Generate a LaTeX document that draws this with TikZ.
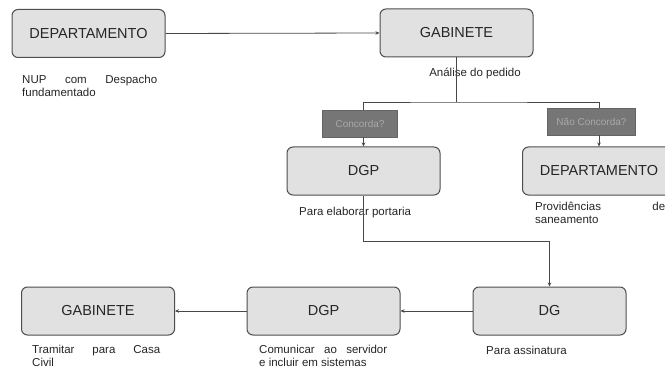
\documentclass[tikz,border=0pt]{standalone}
\usepackage{fontspec}
\setmainfont{Liberation Sans}
\usetikzlibrary{arrows.meta}
\definecolor{boxfill}{HTML}{E1E1E1}
\definecolor{boxline}{HTML}{4E4E4E}
\definecolor{tagfill}{HTML}{767676}
\definecolor{tagtext}{HTML}{A9A9A9}
\definecolor{ink}{HTML}{262626}
\tikzset{
  flowbox/.style={draw=boxline, line width=1pt, fill=boxfill, rounded corners=6pt,
    minimum width=153pt, minimum height=48pt, inner sep=0pt,
    font=\fontsize{14.5}{16}\selectfont, text=ink},
  tagbox/.style={fill=tagfill, draw=tagfill!85!black, line width=0.4pt, minimum height=27pt, inner sep=0pt,
    font=\fontsize{10}{12}\selectfont, text=tagtext},
  note/.style={inner sep=0pt, align=left, font=\fontsize{11.5}{12.5}\selectfont, text=ink},
  link/.style={draw=ink!85, line width=0.8pt},
  arr/.style={link, -{Stealth[length=4pt,width=3.5pt]}}
}
\begin{document}
\begin{tikzpicture}[x=1pt,y=-1pt]
\useasboundingbox (0,0) rectangle (665,369);
\clip (0,0) rectangle (665,369);
\fill[white] (0,0) rectangle (665,369);
% boxes
\node[flowbox] (dep1) at (88.5,33.5) {DEPARTAMENTO};
\node[flowbox] (gab1) at (456.5,33) {GABINETE};
\node[tagbox, minimum width=75pt] (conc) at (360,123.5) {Concorda?};
\node[tagbox, minimum width=88pt] (nconc) at (591.5,121.5) {Não Concorda?};
\node[flowbox] (dgp1) at (363.5,171) {DGP};
\node[flowbox] (dep2) at (599,171) {DEPARTAMENTO};
\node[flowbox] (gab2) at (98,311) {GABINETE};
\node[flowbox] (dgp2) at (323.5,311) {DGP};
\node[flowbox] (dg) at (549.5,311) {DG};
% labels
\node[note, anchor=north west] (l1) at (22,75) {\makebox[135pt][s]{NUP com Despacho}\\fundamentado};
\node[note] (l2) at (475,73) {Análise do pedido};
\node[note, anchor=west] (l3) at (299,213) {Para elaborar portaria};
\node[note, anchor=north west] (l4) at (535,202) {\makebox[130pt][s]{Providências de}\\saneamento};
\node[note, anchor=north west] (l5) at (32,345) {\makebox[128pt][s]{Tramitar para Casa}\\Civil};
\node[note, anchor=north west] (l6) at (259,345) {\makebox[128pt][s]{Comunicar ao servidor}\\e incluir em sistemas};
\node[note, anchor=west] (l7) at (486,350) {Para assinatura};
% connectors
\coordinate (split) at (456.5,102);
\draw[arr] (dep1.east) -- (gab1.west);
\draw[link] (gab1.south) -- (split);
\draw[link] (conc.north -| dgp1.north) |- (split) -| (nconc.north -| dep2.north);
\draw[arr] (conc.south -| dgp1.north) -- (dgp1.north);
\draw[arr] (nconc.south -| dep2.north) -- (dep2.north);
\coordinate (bend) at (549.5,241);
\draw[arr] (dgp1.south) |- (bend) -- (dg.north);
\draw[arr] (dg.west) -- (dgp2.east);
\draw[arr] (dgp2.west) -- (gab2.east);
\end{tikzpicture}
\end{document}
